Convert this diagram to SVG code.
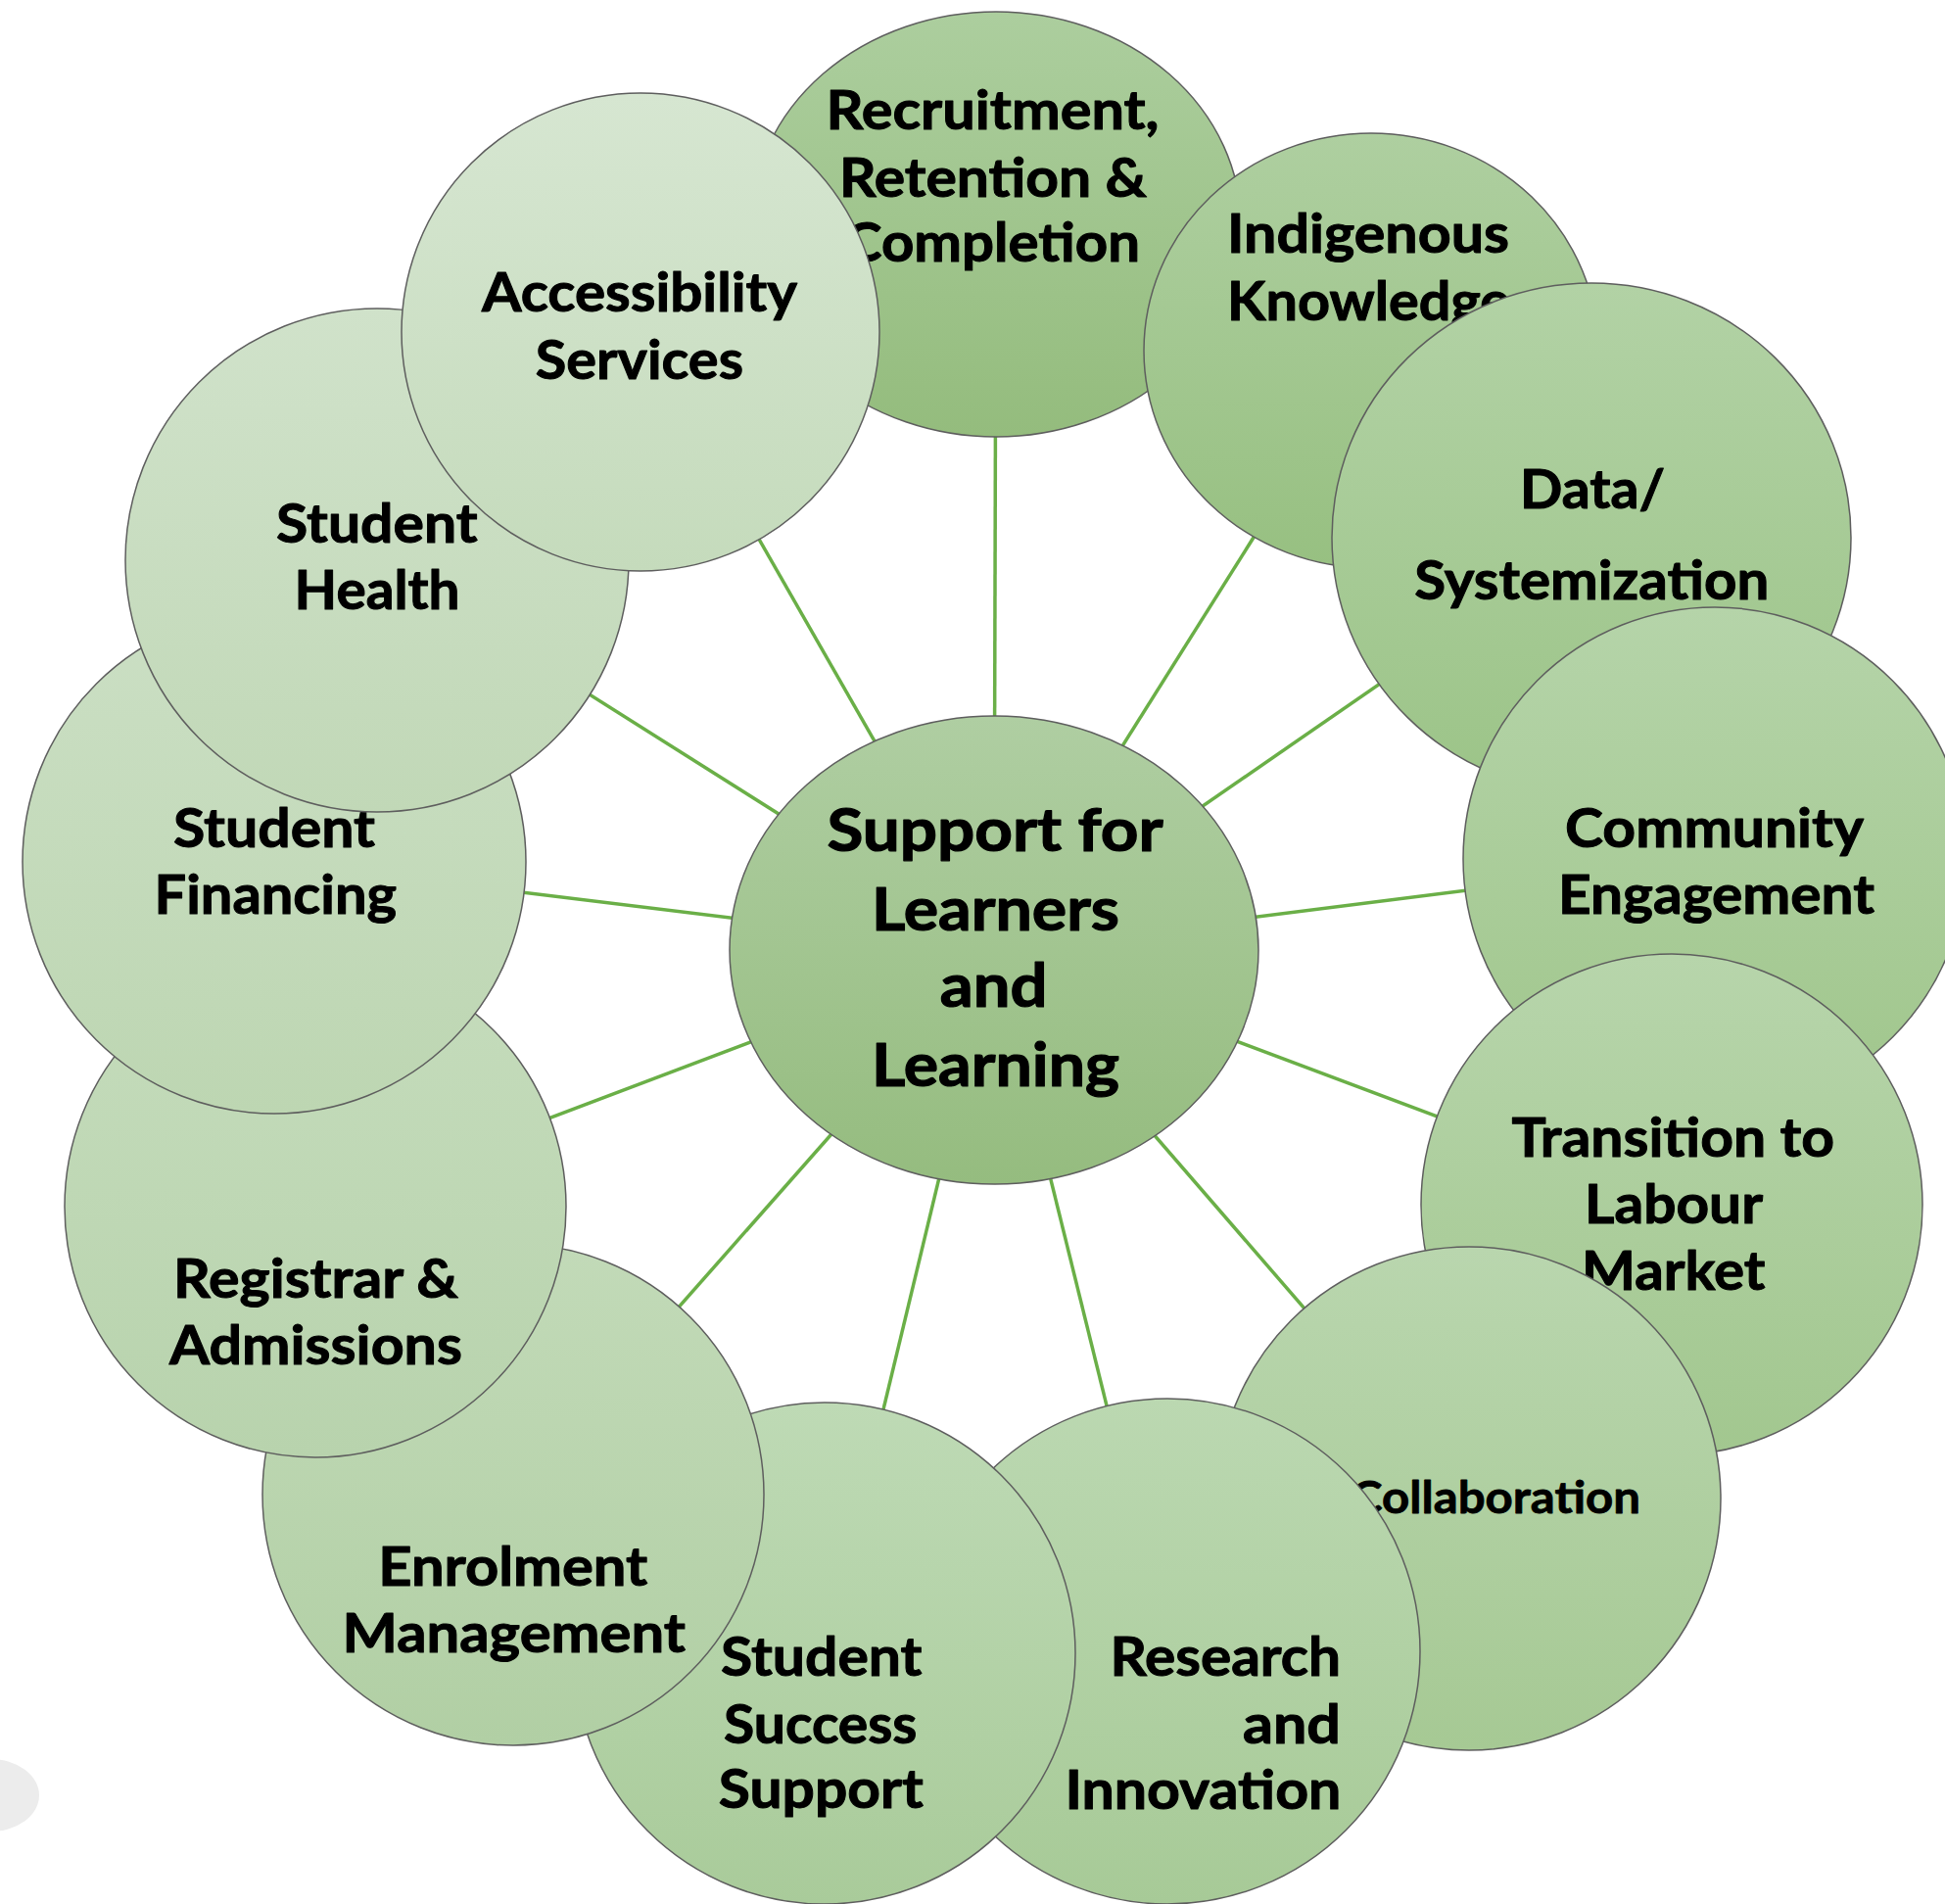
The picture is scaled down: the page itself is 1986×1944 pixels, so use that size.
<svg xmlns="http://www.w3.org/2000/svg" width="1986" height="1944" viewBox="0 0 1986 1944">
  <style>
    .node { stroke: #5e5e5e; stroke-width: 1.5; }
    .lbl { font-family: "Lato", "Liberation Sans", sans-serif; font-weight: 700; font-size: 55px; fill: #000; stroke: #000; stroke-width: 1; stroke-linejoin: round; }
    .lbl-big { font-size: 62px; stroke-width: 1.2; }
    .lbl-small { font-size: 46px; stroke-width: 0.8; }
    .link { stroke: #6aaf47; stroke-width: 3.5; fill: none; }
  </style>
  <defs>
    <linearGradient id="g-recruit" x1="0" y1="0" x2="0" y2="1"><stop offset="0" stop-color="#acce9e"/><stop offset="1" stop-color="#94bc7d"/></linearGradient>
    <linearGradient id="g-indig" x1="0" y1="0" x2="0" y2="1"><stop offset="0" stop-color="#aecfa0"/><stop offset="1" stop-color="#97c081"/></linearGradient>
    <linearGradient id="g-data" x1="0" y1="0" x2="0" y2="1"><stop offset="0" stop-color="#b2d2a5"/><stop offset="1" stop-color="#9cc488"/></linearGradient>
    <linearGradient id="g-comm" x1="0" y1="0" x2="0" y2="1"><stop offset="0" stop-color="#b5d4a9"/><stop offset="1" stop-color="#a0c68c"/></linearGradient>
    <linearGradient id="g-trans" x1="0" y1="0" x2="0" y2="1"><stop offset="0" stop-color="#b7d5ab"/><stop offset="1" stop-color="#a2c78f"/></linearGradient>
    <linearGradient id="g-collab" x1="0" y1="0" x2="0" y2="1"><stop offset="0" stop-color="#b9d6ae"/><stop offset="1" stop-color="#a6c994"/></linearGradient>
    <linearGradient id="g-research" x1="0" y1="0" x2="0" y2="1"><stop offset="0" stop-color="#bbd8b1"/><stop offset="1" stop-color="#a7ca97"/></linearGradient>
    <linearGradient id="g-success" x1="0" y1="0" x2="0" y2="1"><stop offset="0" stop-color="#bedab5"/><stop offset="1" stop-color="#a9cb9a"/></linearGradient>
    <linearGradient id="g-enrol" x1="0" y1="0" x2="0" y2="1"><stop offset="0" stop-color="#c2dab8"/><stop offset="1" stop-color="#b1cfa4"/></linearGradient>
    <linearGradient id="g-regis" x1="0" y1="0" x2="0" y2="1"><stop offset="0" stop-color="#c5dcbc"/><stop offset="1" stop-color="#b8d3ad"/></linearGradient>
    <linearGradient id="g-finance" x1="0" y1="0" x2="0" y2="1"><stop offset="0" stop-color="#cbdfc4"/><stop offset="1" stop-color="#bdd6b2"/></linearGradient>
    <linearGradient id="g-health" x1="0" y1="0" x2="0" y2="1"><stop offset="0" stop-color="#d0e2ca"/><stop offset="1" stop-color="#c1d8b7"/></linearGradient>
    <linearGradient id="g-access" x1="0" y1="0" x2="0" y2="1"><stop offset="0" stop-color="#d6e6d1"/><stop offset="1" stop-color="#c5dbbc"/></linearGradient>
    <linearGradient id="g-hub" x1="0" y1="0" x2="0" y2="1"><stop offset="0" stop-color="#afcea2"/><stop offset="1" stop-color="#95bc7f"/></linearGradient>
  </defs>

  <rect width="1986" height="1944" fill="#ffffff"/>

  <!-- faint shape at the lower-left edge -->
  <ellipse cx="-10" cy="1833" rx="50" ry="37" fill="#ececec"/>

  <!-- spokes from the hub to every surrounding circle -->
  <g id="connectors">
    <line class="link" x1="1015" y1="970" x2="1017" y2="229"/>
    <line class="link" x1="1015" y1="970" x2="1400" y2="358"/>
    <line class="link" x1="1015" y1="970" x2="1625" y2="549"/>
    <line class="link" x1="1015" y1="970" x2="1751" y2="877"/>
    <line class="link" x1="1015" y1="970" x2="1707" y2="1230"/>
    <line class="link" x1="1015" y1="970" x2="1500" y2="1530"/>
    <line class="link" x1="1015" y1="970" x2="1192" y2="1686"/>
    <line class="link" x1="1015" y1="970" x2="842" y2="1688"/>
    <line class="link" x1="1015" y1="970" x2="524" y2="1526"/>
    <line class="link" x1="1015" y1="970" x2="322" y2="1232"/>
    <line class="link" x1="1015" y1="970" x2="280" y2="880"/>
    <line class="link" x1="1015" y1="970" x2="385" y2="572"/>
    <line class="link" x1="1015" y1="970" x2="654" y2="339"/>
  </g>

  <!-- surrounding circles, back to front -->
  <g id="recruitment">
    <ellipse class="node" cx="1017" cy="229" rx="250" ry="217" fill="url(#g-recruit)"/>
    <text class="lbl" x="843.5" y="132" textLength="340" lengthAdjust="spacingAndGlyphs">Recruitment,</text>
    <text class="lbl" x="857" y="200.5" textLength="314" lengthAdjust="spacingAndGlyphs">Retention &amp;</text>
    <text class="lbl" x="862" y="266.5" textLength="302" lengthAdjust="spacingAndGlyphs">Completion</text>
  </g>

  <g id="indigenous">
    <ellipse class="node" cx="1400" cy="358" rx="232" ry="222" fill="url(#g-indig)"/>
    <text class="lbl" x="1253" y="258.3" textLength="288" lengthAdjust="spacingAndGlyphs">Indigenous</text>
    <text class="lbl" x="1253" y="326.5" textLength="289" lengthAdjust="spacingAndGlyphs">Knowledge</text>
  </g>

  <g id="data">
    <ellipse class="node" cx="1625" cy="549" rx="265" ry="260" fill="url(#g-data)"/>
    <text class="lbl" x="1552" y="518.7" textLength="148" lengthAdjust="spacingAndGlyphs">Data/</text>
    <text class="lbl" x="1444.3" y="611.6" textLength="362" lengthAdjust="spacingAndGlyphs">Systemization</text>
  </g>

  <g id="community">
    <circle class="node" cx="1751" cy="877" r="257" fill="url(#g-comm)"/>
    <text class="lbl" x="1598" y="865" textLength="305" lengthAdjust="spacingAndGlyphs">Community</text>
    <text class="lbl" x="1591" y="933" textLength="323" lengthAdjust="spacingAndGlyphs">Engagement</text>
  </g>

  <g id="transition">
    <circle class="node" cx="1707" cy="1230" r="256" fill="url(#g-trans)"/>
    <text class="lbl" x="1543.5" y="1181" textLength="329.5" lengthAdjust="spacingAndGlyphs">Transition to</text>
    <text class="lbl" x="1618" y="1249.3" textLength="182" lengthAdjust="spacingAndGlyphs">Labour</text>
    <text class="lbl" x="1615" y="1316.7" textLength="187.5" lengthAdjust="spacingAndGlyphs">Market</text>
  </g>

  <g id="collaboration">
    <circle class="node" cx="1500" cy="1530" r="257" fill="url(#g-collab)"/>
    <text class="lbl lbl-small" x="1379" y="1545" textLength="296" lengthAdjust="spacingAndGlyphs">Collaboration</text>
  </g>

  <g id="research">
    <circle class="node" cx="1192" cy="1686" r="258" fill="url(#g-research)"/>
    <text class="lbl" x="1133.4" y="1711.3" textLength="235.6" lengthAdjust="spacingAndGlyphs">Research</text>
    <text class="lbl" x="1269" y="1779.5" textLength="100" lengthAdjust="spacingAndGlyphs">and</text>
    <text class="lbl" x="1087.4" y="1847" textLength="282" lengthAdjust="spacingAndGlyphs">Innovation</text>
  </g>

  <g id="student-success">
    <circle class="node" cx="842" cy="1688" r="256" fill="url(#g-success)"/>
    <text class="lbl" x="736" y="1711.3" textLength="205.5" lengthAdjust="spacingAndGlyphs">Student</text>
    <text class="lbl" x="739" y="1779.5" textLength="197.4" lengthAdjust="spacingAndGlyphs">Success</text>
    <text class="lbl" x="733.8" y="1845.7" textLength="209" lengthAdjust="spacingAndGlyphs">Support</text>
  </g>

  <g id="enrolment">
    <circle class="node" cx="524" cy="1526" r="256" fill="url(#g-enrol)"/>
    <text class="lbl" x="386.3" y="1618.5" textLength="275" lengthAdjust="spacingAndGlyphs">Enrolment</text>
    <text class="lbl" x="349.6" y="1686.5" textLength="350.4" lengthAdjust="spacingAndGlyphs">Management</text>
  </g>

  <g id="registrar">
    <circle class="node" cx="322" cy="1232" r="256" fill="url(#g-regis)"/>
    <text class="lbl" x="177" y="1325" textLength="291" lengthAdjust="spacingAndGlyphs">Registrar &amp;</text>
    <text class="lbl" x="173" y="1393" textLength="299" lengthAdjust="spacingAndGlyphs">Admissions</text>
  </g>

  <g id="student-financing">
    <circle class="node" cx="280" cy="880" r="257" fill="url(#g-finance)"/>
    <text class="lbl" x="177" y="865" textLength="206" lengthAdjust="spacingAndGlyphs">Student</text>
    <text class="lbl" x="157.5" y="933" textLength="247.5" lengthAdjust="spacingAndGlyphs">Financing</text>
  </g>

  <g id="student-health">
    <circle class="node" cx="385" cy="572" r="257" fill="url(#g-health)"/>
    <text class="lbl" x="282" y="554" textLength="205.6" lengthAdjust="spacingAndGlyphs">Student</text>
    <text class="lbl" x="300.6" y="622" textLength="169" lengthAdjust="spacingAndGlyphs">Health</text>
  </g>

  <g id="accessibility">
    <circle class="node" cx="654" cy="339" r="244" fill="url(#g-access)"/>
    <text class="lbl" x="492" y="318" textLength="322" lengthAdjust="spacingAndGlyphs">Accessibility</text>
    <text class="lbl" x="546.7" y="386.5" textLength="212.3" lengthAdjust="spacingAndGlyphs">Services</text>
  </g>

  <!-- hub -->
  <g id="hub">
    <ellipse class="node" cx="1015" cy="970" rx="270" ry="239" fill="url(#g-hub)"/>
    <text class="lbl lbl-big" x="844.4" y="869" textLength="343.2" lengthAdjust="spacingAndGlyphs">Support for</text>
    <text class="lbl lbl-big" x="890" y="949.7" textLength="253" lengthAdjust="spacingAndGlyphs">Learners</text>
    <text class="lbl lbl-big" x="959.7" y="1028.2" textLength="109.7" lengthAdjust="spacingAndGlyphs">and</text>
    <text class="lbl lbl-big" x="890" y="1108.8" textLength="253" lengthAdjust="spacingAndGlyphs">Learning</text>
  </g>
</svg>
